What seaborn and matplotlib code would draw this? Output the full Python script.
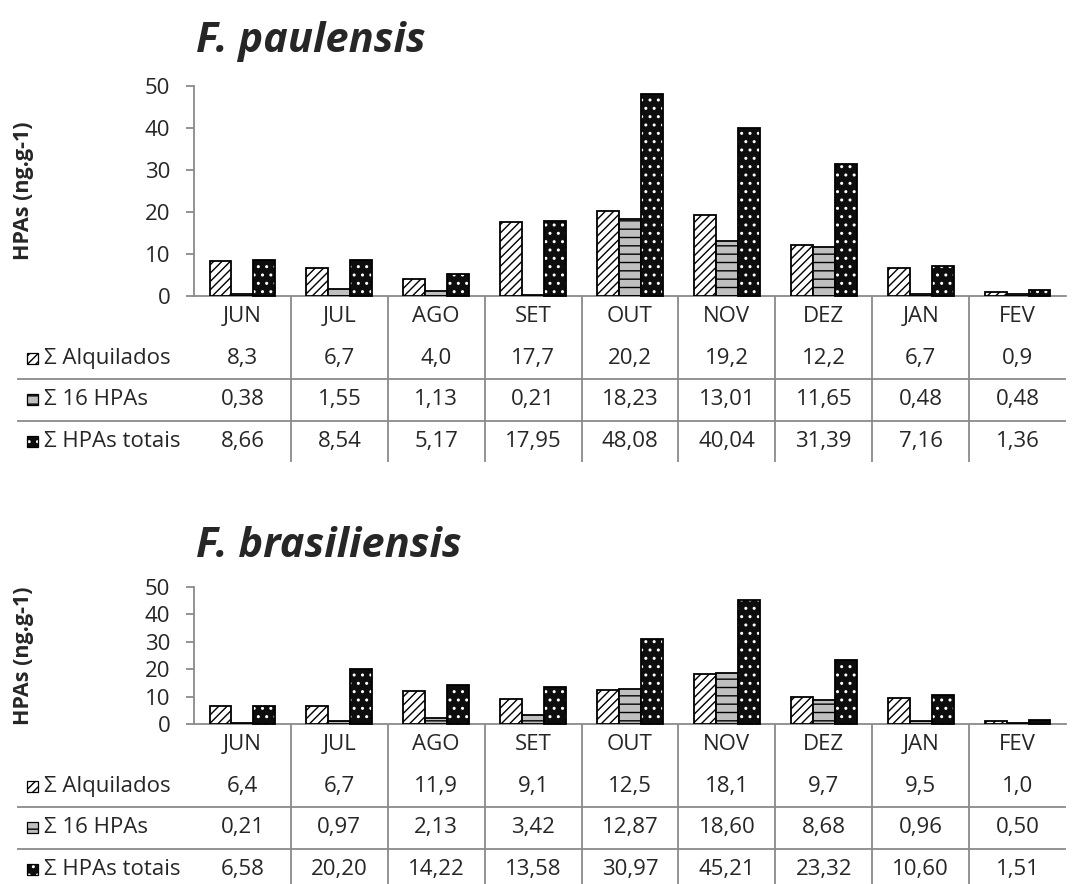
import numpy as np
import pandas as pd
import matplotlib
matplotlib.use("Agg")
import matplotlib.pyplot as plt
import seaborn as sns
from matplotlib.patches import Rectangle
from matplotlib import transforms

months = ["JUN", "JUL", "AGO", "SET", "OUT", "NOV", "DEZ", "JAN", "FEV"]
series_names = ["Σ Alquilados", "Σ 16 HPAs", "Σ HPAs totais"]
series_decimals = [1, 2, 2]

paul_alquilados = [8.3, 6.7, 4.0, 17.7, 20.2, 19.2, 12.2, 6.7, 0.9]
paul_16hpas = [0.38, 1.55, 1.13, 0.21, 18.23, 13.01, 11.65, 0.48, 0.48]
paul_totais = [8.66, 8.54, 5.17, 17.95, 48.08, 40.04, 31.39, 7.16, 1.36]

bras_alquilados = [6.4, 6.7, 11.9, 9.1, 12.5, 18.1, 9.7, 9.5, 1.0]
bras_16hpas = [0.21, 0.97, 2.13, 3.42, 12.87, 18.60, 8.68, 0.96, 0.50]
bras_totais = [6.58, 20.20, 14.22, 13.58, 30.97, 45.21, 23.32, 10.60, 1.51]

y_ticks = [0, 10, 20, 30, 40, 50]

sns.set_theme(style="white")
plt.rcParams["font.family"] = ["Open Sans", "DejaVu Sans"]
plt.rcParams["hatch.linewidth"] = 1.0

W, H = 1079, 884
fig = plt.figure(figsize=(W / 100, H / 100), dpi=100)

GRID = "#8a8a8a"
FS = 16
AX_LEFT, AX_RIGHT = 194, 1066

# face, hatch, hatch colour for each series
styles = [
    ("white", "////", "black"),
    ("#bfbfbf", "--", "black"),
    ("#0d0d0d", "..", "white"),
]


def px_rect(left, top, right, bottom):
    return [left / W, 1 - bottom / H, (right - left) / W, (bottom - top) / H]


def style_patch(p, k, lw=1.3):
    face, hatch, hcol = styles[k]
    p.set_facecolor(face)
    p.set_hatch(hatch)
    p.set_edgecolor(hcol)
    p.set_linewidth(0 if hcol == "white" else lw)


def outline_like(ax, p, transform, lw=1.3):
    # black outline drawn over a bar whose hatch is white
    ax.add_patch(Rectangle(p.get_xy(), p.get_width(), p.get_height(),
                           fill=False, edgecolor="black", linewidth=lw,
                           transform=transform, clip_on=False,
                           zorder=p.get_zorder() + 0.1))


def fmt(v, d):
    return f"{v:.{d}f}".replace(".", ",")


def panel(title, title_base, top_px, zero_px, row_h, values):
    ax = fig.add_axes(px_rect(AX_LEFT, top_px, AX_RIGHT, zero_px))
    df = pd.DataFrame({
        "mes": np.tile(months, 3),
        "serie": np.repeat(series_names, len(months)),
        "valor": np.concatenate(values),
    })
    sns.barplot(data=df, x="mes", y="valor", hue="serie", order=months,
                hue_order=series_names, width=0.68, gap=0, dodge=True,
                legend=False, errorbar=None, ax=ax, zorder=3)
    bars = list(ax.patches)
    n = len(months)
    for k in range(3):
        for p in bars[k * n:(k + 1) * n]:
            style_patch(p, k)
            if styles[k][2] == "white":
                outline_like(ax, p, ax.transData)
    ax.set_xlim(-0.5, n - 0.5)
    ax.set_ylim(0, 50)
    ax.set_yticks(y_ticks)
    ax.set_xticks([])
    ax.set_xlabel("")
    ax.set_ylabel("")
    for s in ["top", "right"]:
        ax.spines[s].set_visible(False)
    for s in ["left", "bottom"]:
        ax.spines[s].set_color(GRID)
        ax.spines[s].set_linewidth(1.3)
    ax.tick_params(axis="y", direction="out", length=6, width=1.3,
                   color=GRID, labelsize=FS, pad=11, left=True)
    ax.set_facecolor("none")

    fig.text(24 / W, 1 - (top_px + zero_px) / 2 / H, "HPAs (ng.g-1)",
             rotation=90, ha="center", va="center", fontsize=15.5,
             fontweight="bold")
    fig.text(196 / W, 1 - title_base / H, title, fontsize=30,
             fontweight="bold", style="italic", va="baseline", ha="left")

    # data table under the bars
    tab_bottom = zero_px + 4 * row_h
    tab = fig.add_axes(px_rect(AX_LEFT, zero_px, AX_RIGHT, tab_bottom))
    tab.set_xlim(-0.5, n - 0.5)
    tab.set_ylim(4, 0)
    tab.axis("off")
    blend = transforms.blended_transform_factory(fig.transFigure, tab.transData)
    for i in range(1, n):
        tab.plot([i - 0.5, i - 0.5], [0, 4], color=GRID, lw=1.3,
                 clip_on=False, solid_capstyle="butt")
    for r in [2, 3]:
        tab.plot([17 / W, AX_RIGHT / W], [r, r], color=GRID, lw=1.3,
                 transform=blend, clip_on=False, solid_capstyle="butt")
    for i, m in enumerate(months):
        tab.text(i, 0.5, m, ha="center", va="center", fontsize=FS)
    for k, (name, vals) in enumerate(zip(series_names, values)):
        yc = k + 1.5
        for i, v in enumerate(vals):
            tab.text(i, yc, fmt(v, series_decimals[k]), ha="center",
                     va="center", fontsize=FS)
        tab.text(44 / W, yc, name, ha="left", va="center", fontsize=FS,
                 transform=blend)
        # legend key
        kx0, kx1 = 27 / W, 38 / W
        kh = 11 / row_h
        key = Rectangle((kx0, yc + kh / 2), kx1 - kx0, -kh,
                        transform=blend, clip_on=False, zorder=5)
        style_patch(key, k, lw=0.9)
        tab.add_patch(key)
        if styles[k][2] == "white":
            outline_like(tab, key, blend, lw=0.9)
    return ax


panel("F. paulensis", 52, 86, 296, 41.5,
      [paul_alquilados, paul_16hpas, paul_totais])
panel("F. brasiliensis", 557, 587, 724, 41.5,
      [bras_alquilados, bras_16hpas, bras_totais])

fig.savefig("out.png", dpi=100, facecolor="white")
